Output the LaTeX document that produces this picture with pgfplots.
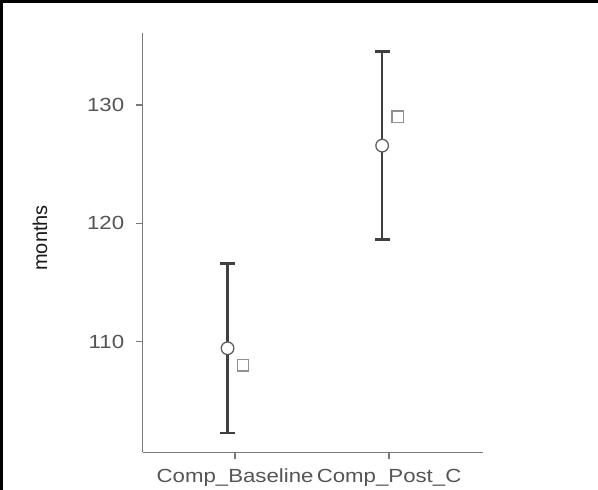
\documentclass[border=0pt]{standalone}
\usepackage{pgfplots}
\pgfplotsset{compat=1.18}
\usepackage{fontspec}
\setmainfont{Liberation Sans}
\newfontfamily\widefont[FakeStretch=1.17]{Liberation Sans}
\definecolor{errc}{HTML}{404040}
\definecolor{axc}{HTML}{7a7a7a}
\definecolor{tlc}{HTML}{555555}
\definecolor{circc}{HTML}{606060}
\definecolor{sqc}{HTML}{909090}
\begin{document}
\begin{tikzpicture}[x=1pt,y=1pt]
\useasboundingbox (0,0) rectangle (598,490);
\fill[white] (0,0) rectangle (598,490);
\draw[black, line width=3pt] (1.5,0) -- (1.5,488.5) -- (598,488.5);
\begin{axis}[
  at={(142.7pt,37.7pt)}, anchor=south west,
  scale only axis, width=340.3pt, height=419.6pt,
  xmin=-0.6, xmax=1.61, ymin=100.65, ymax=136.1,
  axis lines=left,
  axis line style={-, draw=axc, line width=1.5pt},
  tick style={draw=axc, line width=1.5pt},
  tick align=outside, major tick length=7pt,
  xtick={0,1}, xticklabels={Comp\_Baseline,Comp\_Post\_C},
  ytick={110,120,130},
  /pgf/number format/assume math mode=true,
  xticklabel style={font=\widefont\fontsize{19}{22}\selectfont, text=tlc, yshift=-6pt},
  yticklabel style={font=\widefont\fontsize{19}{22}\selectfont, text=tlc, xshift=-8pt},
  ylabel={months},
  every axis y label/.style={at={(axis description cs:-0.302,0.511)}, rotate=90, anchor=center, font=\fontsize{20}{24}\selectfont, text=black!90},
  clip=false,
]
\addplot[draw=none, mark=none, forget plot,
  error bars/.cd, y dir=both, y explicit, error mark=|,
  error bar style={draw=errc, line width=2.6pt},
  error mark options={draw=errc, line width=2.6pt, mark size=7.6pt}]
  coordinates {
    (-0.049,109.44) +- (0,7.15)
    (0.955,126.56) +- (0,7.95)
  };
\addplot[only marks, mark=*, mark size=6.3pt, mark options={fill=white, draw=circc, line width=1.3pt}]
  coordinates {(-0.049,109.44) (0.955,126.56)};
\addplot[only marks, mark=square, mark size=5.6pt, mark options={fill=white, draw=sqc, line width=1.3pt}]
  coordinates {(0.052,108.0) (1.056,129.0)};
\end{axis}
\end{tikzpicture}
\end{document}
